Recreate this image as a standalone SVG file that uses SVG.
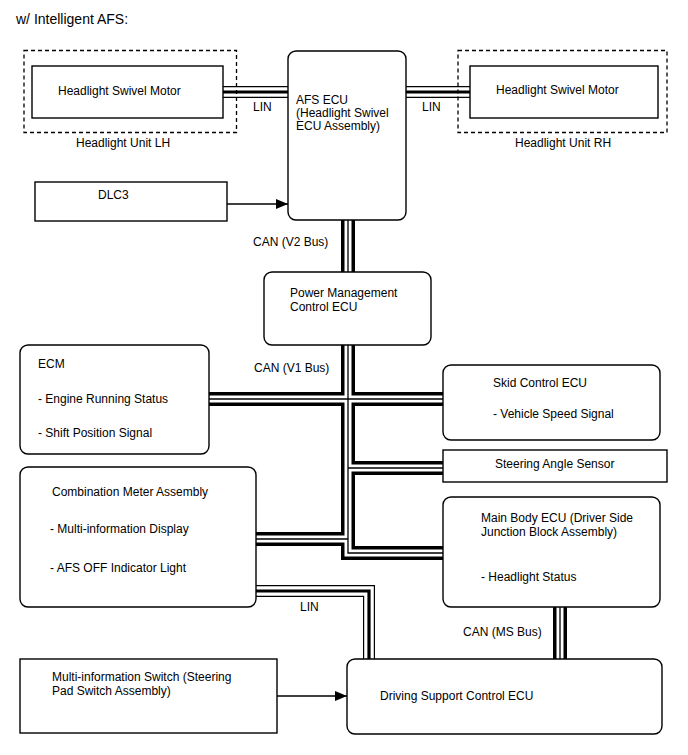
<svg xmlns="http://www.w3.org/2000/svg" width="688" height="755" viewBox="0 0 688 755">
<defs>
<style>
text{font-family:"Liberation Sans",Arial,sans-serif;font-size:12px;fill:#000}
.title{font-size:14px}
.box{fill:#fff;stroke:#000;stroke-width:1.4}
.dash{fill:none;stroke:#000;stroke-width:1.3;stroke-dasharray:4 3}
.cb{fill:none;stroke:#000;stroke-width:14;stroke-linejoin:miter}
.cw{fill:none;stroke:#fff;stroke-width:7;stroke-linejoin:miter}
.cc{fill:none;stroke:#000;stroke-width:1.3;stroke-linejoin:miter}
.lb{fill:none;stroke:#000;stroke-width:12;stroke-linejoin:miter}
.lw{fill:none;stroke:#fff;stroke-width:9.6;stroke-linejoin:miter}
.lc{fill:none;stroke:#000;stroke-width:3.2;stroke-linejoin:miter}
.arr{fill:none;stroke:#000;stroke-width:1.3}
</style>
<marker id="ah" markerWidth="12" markerHeight="10" refX="12" refY="5" orient="auto" markerUnits="userSpaceOnUse">
<path d="M0,0 L12,5 L0,10 Z" fill="#000"/>
</marker>
</defs>
<rect width="688" height="755" fill="#fff"/>
<text class="title" x="16" y="24">w/ Intelligent AFS:</text>

<g id="connectors">
<g id="can-black">
<path class="cb" d="M348,220 V272"/>
<path class="cb" d="M348,345 V553 H443"/>
<path class="cb" d="M209,399 H443"/>
<path class="cb" d="M348,468 H443"/>
<path class="cb" d="M256,539 H348"/>
<path class="cb" d="M560,606 V659"/>
</g>
<g id="can-white">
<path class="cw" d="M348,220 V272"/>
<path class="cw" d="M348,345 V553 H443"/>
<path class="cw" d="M209,399 H443"/>
<path class="cw" d="M348,468 H443"/>
<path class="cw" d="M256,539 H348"/>
<path class="cw" d="M560,606 V659"/>
</g>
<g id="can-center">
<path class="cc" d="M348,220 V272"/>
<path class="cc" d="M348,345 V553 H443"/>
<path class="cc" d="M209,399 H443"/>
<path class="cc" d="M348,468 H443"/>
<path class="cc" d="M256,539 H348"/>
<path class="cc" d="M560,606 V659"/>
</g>
<g id="lin">
<path class="lb" d="M223,92 H288"/>
<path class="lb" d="M406,92 H470"/>
<path class="lb" d="M256,591 H369 V659"/>
<path class="lw" d="M223,92 H288"/>
<path class="lw" d="M406,92 H470"/>
<path class="lw" d="M256,591 H369 V659"/>
<path class="lc" d="M223,92 H288"/>
<path class="lc" d="M406,92 H470"/>
<path class="lc" d="M256,591 H369 V659"/>
</g>
<path class="arr" d="M227,204 H288" marker-end="url(#ah)"/>
<path class="arr" d="M277,696 H347" marker-end="url(#ah)"/>
<text x="253" y="111">LIN</text>
<text x="422" y="111">LIN</text>
<text x="253" y="246">CAN (V2 Bus)</text>
<text x="254" y="372">CAN (V1 Bus)</text>
<text x="300" y="611">LIN</text>
<text x="463" y="636">CAN (MS Bus)</text>
</g>

<g id="headlight-unit-lh">
<rect class="dash" x="24" y="50.5" width="212.5" height="82"/>
<text x="76" y="147">Headlight Unit LH</text>
</g>
<g id="swivel-motor-lh">
<rect class="box" x="32" y="66" width="191" height="52"/>
<text x="58" y="95">Headlight Swivel Motor</text>
</g>
<g id="headlight-unit-rh">
<rect class="dash" x="458" y="50.5" width="209" height="82"/>
<text x="515" y="147">Headlight Unit RH</text>
</g>
<g id="swivel-motor-rh">
<rect class="box" x="470" y="66" width="188" height="52"/>
<text x="496" y="94">Headlight Swivel Motor</text>
</g>
<g id="afs-ecu">
<rect class="box" x="288" y="51" width="118" height="169" rx="8"/>
<text x="296" y="104">AFS ECU</text>
<text x="296" y="117">(Headlight Swivel</text>
<text x="296" y="130">ECU Assembly)</text>
</g>
<g id="dlc3">
<rect class="box" x="35" y="182" width="192" height="39"/>
<text x="98" y="199">DLC3</text>
</g>
<g id="power-management-ecu">
<rect class="box" x="264" y="272" width="167" height="73" rx="8"/>
<text x="290" y="297">Power Management</text>
<text x="290" y="311">Control ECU</text>
</g>
<g id="ecm">
<rect class="box" x="20" y="345" width="189" height="109" rx="8"/>
<text x="38" y="368">ECM</text>
<text x="38" y="403">- Engine Running Status</text>
<text x="38" y="437">- Shift Position Signal</text>
</g>
<g id="skid-control-ecu">
<rect class="box" x="443" y="365" width="217" height="75" rx="8"/>
<text x="493" y="387">Skid Control ECU</text>
<text x="493" y="418">- Vehicle Speed Signal</text>
</g>
<g id="steering-angle-sensor">
<rect class="box" x="443" y="450" width="224" height="32"/>
<text x="495" y="468">Steering Angle Sensor</text>
</g>
<g id="combination-meter">
<rect class="box" x="20" y="467" width="236" height="140" rx="8"/>
<text x="52" y="496">Combination Meter Assembly</text>
<text x="50" y="533">- Multi-information Display</text>
<text x="50" y="572">- AFS OFF Indicator Light</text>
</g>
<g id="main-body-ecu">
<rect class="box" x="443" y="497" width="217" height="110" rx="8"/>
<text x="481" y="522">Main Body ECU (Driver Side</text>
<text x="481" y="536">Junction Block Assembly)</text>
<text x="481" y="581">- Headlight Status</text>
</g>
<g id="multi-information-switch">
<rect class="box" x="20" y="659" width="257" height="74"/>
<text x="52" y="681">Multi-information Switch (Steering</text>
<text x="52" y="695">Pad Switch Assembly)</text>
</g>
<g id="driving-support-ecu">
<rect class="box" x="347" y="659" width="315" height="75" rx="8"/>
<text x="380" y="700">Driving Support Control ECU</text>
</g>
</svg>
